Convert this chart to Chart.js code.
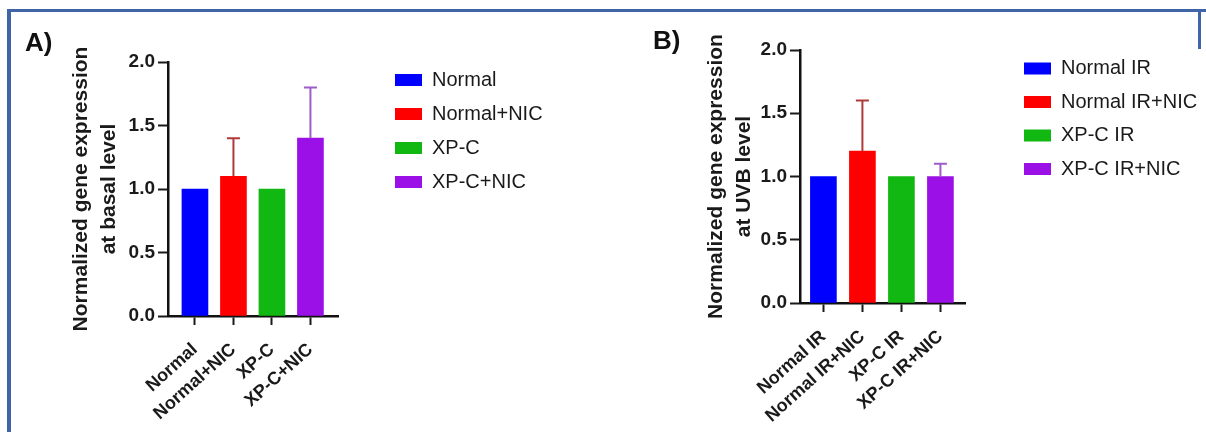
<!DOCTYPE html>
<html>
<head>
<meta charset="utf-8">
<title>Normalized gene expression</title>
<script src="https://cdn.jsdelivr.net/npm/chart.js@4.4.1/dist/chart.umd.min.js"></script>
<style>
  html, body { margin: 0; padding: 0; background: #fff; }
  body { width: 1206px; height: 432px; position: relative; overflow: hidden; }
  .frame { position: absolute; left: 7px; top: 9px; width: 1195px; height: 440px; border-top: 3px solid #4065a6; border-left: 4px solid #4065a6; }
  .frame-r { position: absolute; left: 1198px; top: 9px; width: 3px; height: 40px; background: #4065a6; }
  canvas { position: absolute; top: 0; }
  #chartA { left: 0; }
  #chartB { left: 600px; }
</style>
</head>
<body>
<div class="frame"></div>
<div class="frame-r"></div>
<canvas id="chartA" width="600" height="432"></canvas>
<canvas id="chartB" width="606" height="432"></canvas>

<script>
// --- DATA ---

const catsA = ['Normal', 'Normal+NIC', 'XP-C', 'XP-C+NIC'];
const valuesA = [1.0, 1.1, 1.0, 1.4];
const errorsA = [0, 0.3, 0, 0.4];

const catsB = ['Normal IR', 'Normal IR+NIC', 'XP-C IR', 'XP-C IR+NIC'];
const valuesB = [1.0, 1.2, 1.0, 1.0];
const errorsB = [0, 0.4, 0, 0.1];

const yMin = 0;
const yMax = 2.0;
const yStep = 0.5;

const barColors = ['#0000ff', '#ff0000', '#12b812', '#9b10e6'];
const errColors = ['#0000ff', '#b03a3a', '#12b812', '#9d5cc9'];

const FONT = "Arial, 'Liberation Sans', sans-serif";
const INK = '#1a1a1a';
const LEGEND_FONT = 20;
const LEGEND_BOX = 27;

Chart.defaults.font.family = FONT;
Chart.defaults.color = INK;

// --- ERROR BARS (upper whisker + cap) ---

const errorBars = {
    id: 'errorBars',
    afterDatasetsDraw(chart) {
        const ds = chart.data.datasets[0];
        const meta = chart.getDatasetMeta(0);
        const yScale = chart.scales.y;
        const ctx = chart.ctx;
        ctx.save();
        ctx.lineWidth = 2;
        ds.errors.forEach((err, i) => {
            if (!err) return;
            const x = meta.data[i].x;
            const yBar = yScale.getPixelForValue(ds.data[i].y);
            const yTop = yScale.getPixelForValue(ds.data[i].y + err);
            ctx.strokeStyle = ds.errorColors[i];
            ctx.beginPath();
            ctx.moveTo(x, yBar);
            ctx.lineTo(x, yTop);
            ctx.moveTo(x - 6.5, yTop);
            ctx.lineTo(x + 6.5, yTop);
            ctx.stroke();
        });
        ctx.restore();
    }
};

// legend box width as chart.js computes it (padding + box + font/2 + text + 10)
function legendWidth(cats, gap) {
    const ctx = document.createElement('canvas').getContext('2d');
    ctx.font = LEGEND_FONT + 'px ' + FONT;
    const widest = Math.max(...cats.map(c => ctx.measureText(c).width));
    return gap + LEGEND_BOX + LEGEND_FONT / 2 + widest + 10;
}

// --- PANEL BUILDER ---

function buildPanel(canvasId, cats, values, errors, yTitle, L) {
    const canvas = document.getElementById(canvasId);
    const points = cats.map((c, i) => ({ x: i, y: values[i] }));
    const padRight = canvas.width - L.legendLeft - legendWidth(cats, L.legendGap);

    return new Chart(canvas, {
        type: 'bar',
        data: {
            datasets: [{
                data: points,
                backgroundColor: barColors,
                borderWidth: 0,
                barThickness: 26,
                errors: errors,
                errorColors: errColors,
                xAxisID: 'x',
                yAxisID: 'y'
            }]
        },
        options: {
            responsive: false,
            animation: false,
            layout: { padding: { left: L.padLeft, top: 20, right: padRight, bottom: 0 } },
            plugins: {
                tooltip: { enabled: false },
                title: {
                    display: true,
                    text: L.tag,
                    align: 'start',
                    color: '#111',
                    font: { size: 26, weight: 'bold', lineHeight: 0.6 },
                    padding: L.tagPad
                },
                legend: {
                    position: 'right',
                    align: 'start',
                    maxWidth: 400,
                    title: { display: true, text: '', font: { size: 10, lineHeight: 1 }, padding: { top: L.legendShift, bottom: 0 } },
                    labels: {
                        boxWidth: LEGEND_BOX,
                        boxHeight: 12,
                        padding: L.legendGap,
                        color: '#262626',
                        font: { size: LEGEND_FONT },
                        generateLabels: () => cats.map((c, i) => ({
                            text: c,
                            fillStyle: barColors[i],
                            strokeStyle: barColors[i],
                            lineWidth: 0,
                            hidden: false,
                            index: i
                        }))
                    }
                }
            },
            scales: {
                x: {
                    type: 'linear',
                    min: L.xMin,
                    max: L.xMax,
                    offset: false,
                    afterFit: s => { s.height = L.xHeight; },
                    grid: { offset: false, drawOnChartArea: false, drawTicks: true, tickLength: 9, tickWidth: 2, color: INK },
                    border: { display: true, color: '#111', width: 2.5 },
                    ticks: {
                        stepSize: 1,
                        includeBounds: false,
                        autoSkip: false,
                        minRotation: 42,
                        maxRotation: 42,
                        padding: 14,
                        color: INK,
                        font: { size: 18, weight: 'bold' },
                        callback: v => cats[v]
                    }
                },
                y: {
                    position: 'left',
                    min: yMin,
                    max: yMax,
                    afterFit: s => { s.width = L.yWidth; },
                    grid: { drawOnChartArea: false, drawTicks: true, tickLength: 10, tickWidth: 2, color: INK },
                    border: { display: true, color: '#111', width: 2.5 },
                    ticks: {
                        stepSize: yStep,
                        padding: 3,
                        color: INK,
                        font: { size: 19, weight: 'bold' },
                        callback: v => v.toFixed(1)
                    },
                    title: {
                        display: true,
                        text: yTitle,
                        color: INK,
                        font: { size: 21, weight: 'bold', lineHeight: 1.3 },
                        padding: { top: L.yTitlePad, bottom: 0 }
                    }
                },
                // spacer between plot and legend
                gap: {
                    type: 'linear',
                    position: 'right',
                    display: true,
                    grid: { display: false },
                    border: { display: false },
                    ticks: { display: false },
                    afterFit: s => { s.width = L.gapRight; }
                }
            }
        },
        plugins: [errorBars]
    });
}

// --- BOOTSTRAP ---

buildPanel('chartA', catsA, valuesA, errorsA, ['Normalized gene expression', 'at basal level'], {
    tag: 'A)',
    padLeft: 25,
    tagPad: { top: 15.9, bottom: 10.5 },
    yWidth: 143,
    yTitlePad: 43,
    gapRight: 43,
    xHeight: 116,
    xMin: -0.70,
    xMax: 3.716,
    legendLeft: 381,
    legendShift: 26,
    legendGap: 14
});

buildPanel('chartB', catsB, valuesB, errorsB, ['Normalized gene expression', 'at UVB level'], {
    tag: 'B)',
    padLeft: 53,
    tagPad: { top: 14.3, bottom: 0.1 },
    yWidth: 147,
    yTitlePad: 50,
    gapRight: 45.5,
    xHeight: 129,
    xMin: -0.60,
    xMax: 3.63,
    legendLeft: 410.5,
    legendShift: 15,
    legendGap: 13.5
});
</script>
</body>
</html>
